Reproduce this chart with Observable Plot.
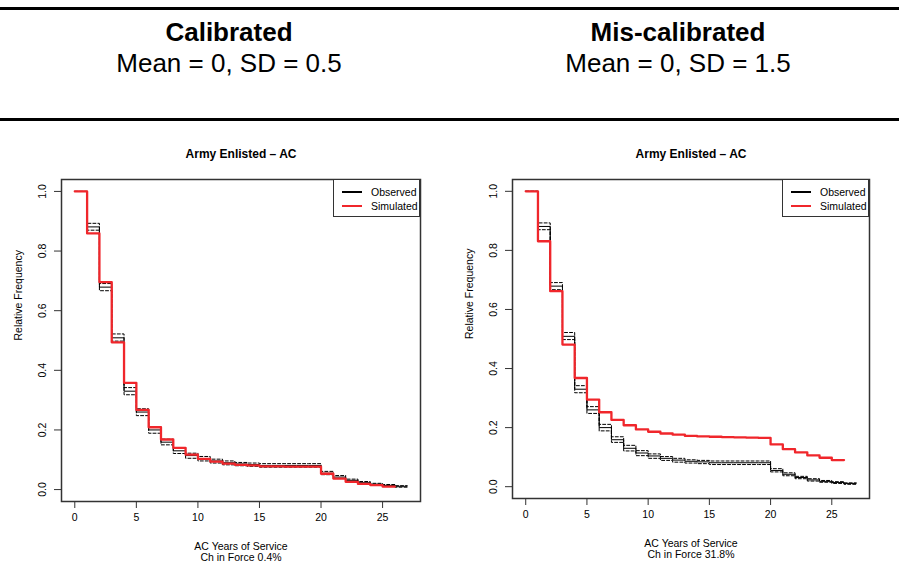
<!DOCTYPE html>
<html>
<head>
<meta charset="utf-8">
<script src="https://cdn.jsdelivr.net/npm/d3@7"></script>
<script src="https://cdn.jsdelivr.net/npm/@observablehq/plot@0.6"></script>
<style>
  html, body { margin: 0; padding: 0; background: #fff; }
  #root { position: relative; width: 899px; height: 564px; overflow: hidden; font-family: "Liberation Sans", Arial, Helvetica, sans-serif; color: #000; }
  .rule { position: absolute; left: 0; width: 899px; height: 3px; background: #000; }
  .head { position: absolute; width: 400px; text-align: center; line-height: 1; }
  .head .t { font-weight: bold; font-size: 26px; }
  .head .s { font-size: 26px; margin-top: 5px; }
  .chart { position: absolute; top: 140px; }
  .legend { position: absolute; top: 39px; width: 87px; height: 38px; border: 1px solid #333; background: #fff; font-size: 10.5px; box-sizing: border-box; }
  .legend .row { position: absolute; left: 8px; display: flex; align-items: center; }
  .legend .sw { width: 20px; height: 2px; margin-right: 9px; }
</style>
</head>
<body>
<div id="root">
  <div class="rule" style="top:7px"></div>
  <div class="head" style="left:29px; top:19px"><div class="t">Calibrated</div><div class="s">Mean = 0, SD = 0.5</div></div>
  <div class="head" style="left:478px; top:19px"><div class="t">Mis-calibrated</div><div class="s">Mean = 0, SD = 1.5</div></div>
  <div class="rule" style="top:118px"></div>
  <div class="chart" id="left" style="left:0px"></div>
  <div class="chart" id="right" style="left:450px"></div>
</div>
<script>
// Interval start years (value holds from year i to i+1)
const years = d3.range(0, 27);           // 0..26
const observedEnd = 27;
const simulatedEnd = 26;
const observed = [1.0, 0.881, 0.679, 0.509, 0.330, 0.260, 0.200, 0.159, 0.130, 0.114, 0.104, 0.096, 0.090, 0.086, 0.084, 0.081, 0.081, 0.081, 0.081, 0.081, 0.055, 0.042, 0.031, 0.023, 0.018, 0.014, 0.011];
const observedUpper = [1.0, 0.893, 0.691, 0.522, 0.342, 0.271, 0.211, 0.169, 0.140, 0.122, 0.111, 0.102, 0.096, 0.091, 0.089, 0.087, 0.087, 0.087, 0.087, 0.087, 0.061, 0.047, 0.035, 0.027, 0.021, 0.017, 0.013];
const observedLower = [1.0, 0.870, 0.667, 0.498, 0.318, 0.248, 0.189, 0.150, 0.121, 0.105, 0.096, 0.089, 0.083, 0.080, 0.078, 0.075, 0.075, 0.075, 0.075, 0.075, 0.050, 0.037, 0.027, 0.019, 0.015, 0.011, 0.008];
const simCalibrated = [1.0, 0.859, 0.696, 0.494, 0.358, 0.267, 0.209, 0.168, 0.140, 0.117, 0.103, 0.094, 0.087, 0.083, 0.081, 0.078, 0.078, 0.077, 0.077, 0.077, 0.053, 0.037, 0.026, 0.019, 0.015, 0.010];
const simMiscalibrated = [1.0, 0.831, 0.662, 0.481, 0.368, 0.295, 0.252, 0.226, 0.208, 0.194, 0.186, 0.180, 0.176, 0.172, 0.170, 0.169, 0.168, 0.167, 0.166, 0.165, 0.143, 0.127, 0.116, 0.106, 0.098, 0.090];
const xTicks = [0, 5, 10, 15, 20, 25];
const yTicks = [0, 0.2, 0.4, 0.6, 0.8, 1.0];
const panels = [
  { id: "left", title: "Army Enlisted \u2013 AC", xLabel: "AC Years of Service", chLabel: "Ch in Force 0.4%", sim: simCalibrated, width: 450, marginLeft: 61, marginRight: 30, marginBottom: 63 },
  { id: "right", title: "Army Enlisted \u2013 AC", xLabel: "AC Years of Service", chLabel: "Ch in Force 31.8%", sim: simMiscalibrated, width: 449, marginLeft: 62, marginRight: 30, marginBottom: 66 }
];
const series = ["Observed", "Simulated"];
const seriesColors = ["#000000", "#f0262b"];

function steps(values, end) {
  const pts = values.map((v, i) => ({ x: years[i], y: v }));
  pts.push({ x: end, y: values[values.length - 1] });
  return pts;
}

for (const p of panels) {
  const plot = Plot.plot({
    width: p.width,
    height: 424,
    marginLeft: p.marginLeft,
    marginRight: p.marginRight,
    marginTop: 39,
    marginBottom: p.marginBottom,
    style: { fontFamily: "'Liberation Sans', Arial, Helvetica, sans-serif", fontSize: "10px", background: "white", color: "#000" },
    x: { domain: [-1.08, 28.08] },
    y: { domain: [-0.04, 1.04] },
    marks: [
      Plot.axisX({ ticks: xTicks, tickSize: 7, tickPadding: 5, label: null, fontSize: 10.5, stroke: "#333" }),
      Plot.axisY({ ticks: yTicks, tickSize: 7, tickFormat: () => "", label: null, stroke: "#333" }),
      Plot.text(yTicks, { y: d => d, frameAnchor: "left", text: d => d.toFixed(1), rotate: -90, dx: -19, textAnchor: "middle", lineAnchor: "middle", fontSize: 10.5 }),
      Plot.text([p.title], { frameAnchor: "top", dy: -25, fontWeight: "bold", fontSize: 12, lineAnchor: "middle" }),
      Plot.text(["Relative Frequency"], { frameAnchor: "left", rotate: -90, dx: -43, fontSize: 10.5, lineAnchor: "middle" }),
      Plot.text([p.xLabel + "\n" + p.chLabel], { frameAnchor: "bottom", dy: 50, fontSize: 10.5, lineAnchor: "middle", lineHeight: 1.05 }),
      Plot.line(steps(observedUpper, observedEnd), { x: "x", y: "y", curve: "step-after", stroke: "#000", strokeWidth: 1, strokeDasharray: "3,2" }),
      Plot.line(steps(observedLower, observedEnd), { x: "x", y: "y", curve: "step-after", stroke: "#000", strokeWidth: 1, strokeDasharray: "3,2" }),
      Plot.line(steps(observed, observedEnd), { x: "x", y: "y", curve: "step-after", stroke: "#000", strokeWidth: 1 }),
      Plot.line(steps(p.sim, simulatedEnd), { x: "x", y: "y", curve: "step-after", stroke: seriesColors[1], strokeWidth: 2.3 }),
      Plot.frame({ stroke: "#333", strokeWidth: 1.5 })
    ]
  });
  const host = document.getElementById(p.id);
  host.appendChild(plot);
  const lg = document.createElement("div");
  lg.className = "legend";
  lg.style.left = (p.width - p.marginRight - 87) + "px";
  series.forEach((s, i) => {
    const row = document.createElement("div");
    row.className = "row";
    row.style.top = (6 + i * 14) + "px";
    const sw = document.createElement("span");
    sw.className = "sw";
    sw.style.background = seriesColors[i];
    const tx = document.createElement("span");
    tx.textContent = s;
    row.appendChild(sw);
    row.appendChild(tx);
    lg.appendChild(row);
  });
  host.appendChild(lg);
}
</script>
</body>
</html>
